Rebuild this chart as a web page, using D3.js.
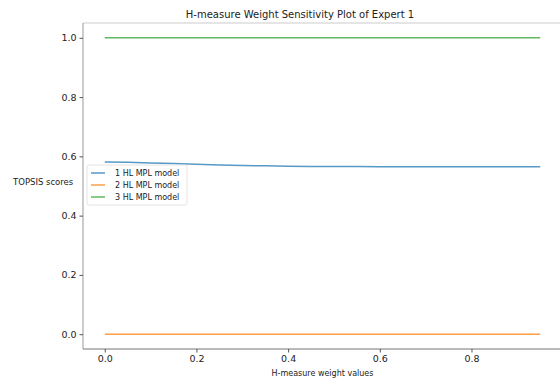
<!DOCTYPE html>
<html>
<head>
<meta charset="utf-8">
<script src="https://cdn.jsdelivr.net/npm/d3@7"></script>
<style>
  body { margin: 0; background: #fff; }
  svg { font-family: "DejaVu Sans", sans-serif; }
</style>
</head>
<body>
<div id="chart"></div>
<script>
// weight values on x axis
var weights = [0, 0.05, 0.1, 0.15, 0.2, 0.25, 0.3, 0.35, 0.4, 0.45,
               0.5, 0.55, 0.6, 0.65, 0.7, 0.75, 0.8, 0.85, 0.9, 0.95];
var model1 = [0.581, 0.580, 0.578, 0.576, 0.573, 0.571, 0.569, 0.568, 0.567, 0.566,
              0.566, 0.5655, 0.565, 0.565, 0.565, 0.565, 0.5648, 0.5648, 0.5647, 0.5647];
var model2 = [0, 0, 0, 0, 0, 0, 0, 0, 0, 0, 0, 0, 0, 0, 0, 0, 0, 0, 0, 0];
var model3 = [1, 1, 1, 1, 1, 1, 1, 1, 1, 1, 1, 1, 1, 1, 1, 1, 1, 1, 1, 1];
var seriesNames = ["1 HL MPL model", "2 HL MPL model", "3 HL MPL model"];
var colors = ["#1f77b4", "#ff7f0e", "#2ca02c"];
var xTicks = [0, 0.2, 0.4, 0.6, 0.8];
var yTicks = [0, 0.2, 0.4, 0.6, 0.8, 1.0];

var W = 560, H = 383;
var margin = {top: 23, left: 83, bottom: 34, right: -2};
var width = W - margin.left - margin.right,
    height = H - margin.top - margin.bottom;

var svg = d3.select("#chart").append("svg")
    .attr("width", W).attr("height", H);

var g = svg.append("g")
    .attr("transform", "translate(" + margin.left + "," + margin.top + ")");

var x = d3.scaleLinear().domain([-0.0475, 0.9975]).range([0, width]);
var y = d3.scaleLinear().domain([-0.05, 1.05]).range([height, 0]);

// frame
g.append("line").attr("x1", 0).attr("x2", width).attr("y1", 0).attr("y2", 0)
    .attr("stroke", "#cccccc").attr("stroke-width", 1.2);
g.append("line").attr("x1", 0).attr("x2", 0).attr("y1", 0).attr("y2", height)
    .attr("stroke", "#aaaaaa").attr("stroke-width", 1.2);
g.append("line").attr("x1", 0).attr("x2", width).attr("y1", height).attr("y2", height)
    .attr("stroke", "#777777").attr("stroke-width", 1.2);

var xAxis = g.append("g")
    .attr("transform", "translate(0," + height + ")")
    .call(d3.axisBottom(x).tickValues(xTicks).tickFormat(d3.format(".1f")).tickSize(3.5).tickPadding(3));
var yAxis = g.append("g")
    .call(d3.axisLeft(y).tickValues(yTicks).tickFormat(d3.format(".1f")).tickSize(3.5).tickPadding(3));

[xAxis, yAxis].forEach(function(a) {
    a.select(".domain").remove();
    a.selectAll(".tick line").attr("stroke", "#555");
    a.selectAll(".tick text").attr("fill", "#222").style("font-size", "9.5px")
        .style("font-family", "DejaVu Sans, sans-serif");
});

var line = d3.line()
    .x(function(d, i) { return x(weights[i]); })
    .y(function(d) { return y(d); });

[model1, model2, model3].forEach(function(s, i) {
    g.append("path")
        .datum(s)
        .attr("fill", "none")
        .attr("stroke", colors[i])
        .attr("stroke-opacity", 0.75)
        .attr("stroke-width", 1.5)
        .attr("d", line);
});

// title and labels
svg.append("text").attr("x", 300).attr("y", 18).attr("text-anchor", "middle")
    .style("font-size", "10px").attr("fill", "#222")
    .text("H-measure Weight Sensitivity Plot of Expert 1");
svg.append("text").attr("x", margin.left + width / 2).attr("y", 376).attr("text-anchor", "middle")
    .style("font-size", "8px").attr("fill", "#222")
    .text("H-measure weight values");
svg.append("text").attr("x", 13).attr("y", 185)
    .style("font-size", "8.5px").attr("fill", "#222")
    .text("TOPSIS scores");

// legend
var lg = svg.append("g").attr("transform", "translate(87,165)");
lg.append("rect").attr("width", 100).attr("height", 40).attr("rx", 2)
    .attr("fill", "#fff").attr("fill-opacity", 0.85)
    .attr("stroke", "#dddddd").attr("stroke-width", 0.8);
seriesNames.forEach(function(name, i) {
    var yy = 8 + i * 12;
    lg.append("line").attr("x1", 4).attr("x2", 18).attr("y1", yy).attr("y2", yy)
        .attr("stroke", colors[i]).attr("stroke-opacity", 0.75).attr("stroke-width", 1.5);
    lg.append("text").attr("x", 28).attr("y", yy + 3)
        .style("font-size", "8px").attr("fill", "#222").text(name);
});
</script>
</body>
</html>
